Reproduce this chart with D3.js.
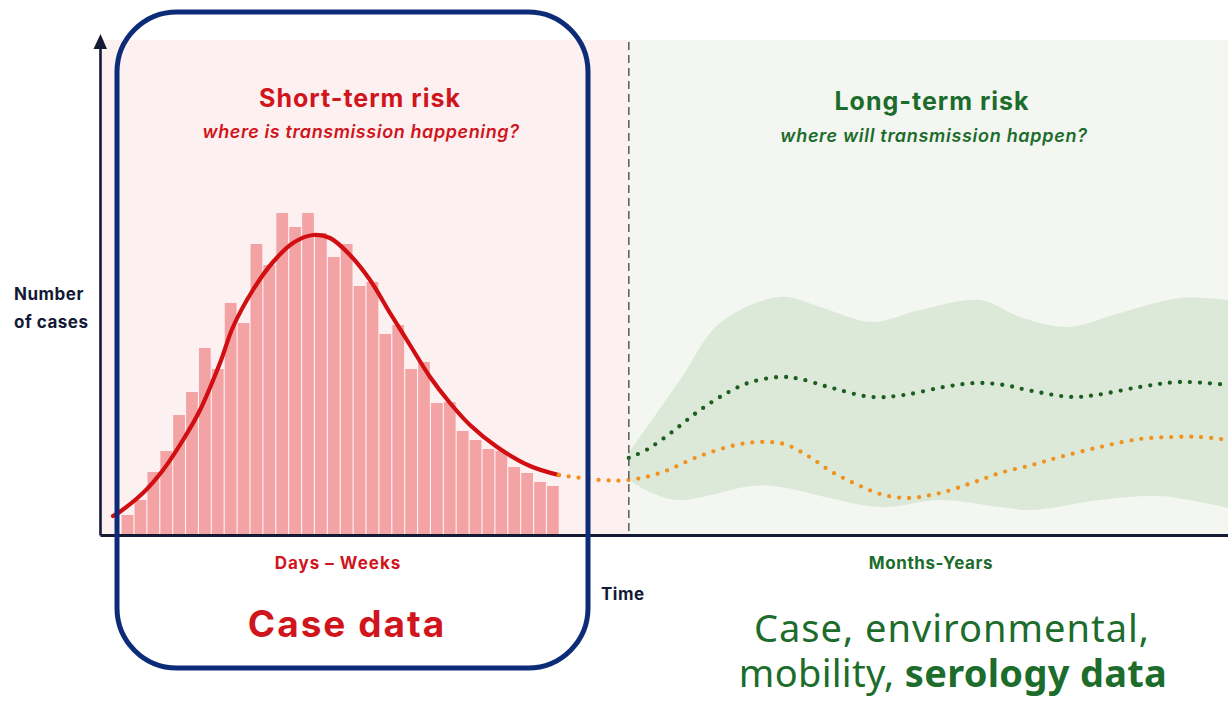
<!DOCTYPE html>
<html>
<head>
<meta charset="utf-8">
<script src="https://cdn.jsdelivr.net/npm/d3@7"></script>
<style>
  html, body { margin: 0; padding: 0; background: #fff; }
  svg { display: block; }
  text { font-family: Inter, "Noto Sans", sans-serif; }
</style>
</head>
<body>
<script>
// Histogram of cases (relative units, one value per bin)
const barValues = [4, 7, 12.6, 16.8, 24, 28.6, 37.4, 33.2, 46.4, 42.4, 58.2, 54, 64.4, 61.6, 64.4, 60.4, 55.6,
    58.2, 49.8, 50.6, 40.2, 42, 33.2, 34.6, 26.4, 26.6, 20.8, 19, 17.2, 16.8, 13.6, 12.4, 10.6, 9.8];
const barRange = [1.92, 40.67];          // first and last bin edge on the time axis

// Fitted epidemic curve [time, cases]
const curvePoints = [[1.15, 3.8], [1.77, 4.66], [3.81, 8.4], [5.59, 13], [7.36, 19], [8.87, 25], [10.64, 34.4],
    [11.79, 41.6], [13.56, 49], [15.34, 54.6], [17.11, 58.4], [18.88, 60], [20.39, 59.4], [22.16, 56], [23.94, 51],
    [25.71, 44.4], [27.48, 38], [29.26, 31.6], [31.03, 26.4], [32.8, 22], [35.2, 17.6], [38.12, 13.8], [40.67, 12]];

// Long-term projection (orange) starting from the end of the curve
const orangePoints = [[40.67, 12], [44.33, 11], [46.88, 11], [49.65, 12.4], [53.19, 15.8], [56.38, 18], [58.51, 18.6],
    [60.64, 18.2], [62.77, 15.8], [64.89, 12.6], [67.02, 10.2], [69.15, 8.2], [71.63, 7.4], [74.47, 8.4], [77.3, 10.4],
    [79.79, 12.4], [82.62, 14], [85.11, 15.6], [88.65, 17.6], [92.2, 19.2], [95.04, 19.6], [97.52, 19.6], [100, 19]];

// Long-term projection (green)
const greenPoints = [[46.88, 15.4], [48.58, 17.2], [50.71, 20.6], [52.84, 24.4], [54.96, 27.6], [57.45, 30.4],
    [60.28, 31.6], [62.06, 31.2], [64.89, 29.4], [68.44, 27.6], [71.28, 28], [74.82, 29.6], [77.66, 30.4],
    [80.14, 30], [82.62, 28.8], [86.17, 27.6], [88.3, 28], [92.2, 29.6], [95.74, 30.6], [100, 30]];

// Uncertainty band
const bandUpper = [[46.88, 16.4], [51.42, 31], [54.96, 42.4], [60.28, 47.6], [63.83, 45.6], [68.44, 42.6],
    [72.7, 45], [78.01, 47], [81.56, 43.6], [85.82, 41.6], [90.43, 44.4], [95.74, 47.4], [100, 47]];
const bandLower = [[46.88, 11], [48.94, 8.4], [51.42, 7], [57.8, 9.8], [60.28, 9.6], [69.15, 5.6], [74.47, 7],
    [79.79, 5.6], [82.62, 5], [88.65, 7], [93.97, 7.8], [100, 5.4]];

const splitTime = 46.88;                 // boundary short-term / long-term

// Dimensions
const [w, h] = [1228, 703];
const plot = { left: 100, right: 1228, top: 35, bottom: 535 };

const svg = d3.select('body')
    .append('svg')
    .attr('width', w)
    .attr('height', h);

// Scales
const xScale = d3.scaleLinear()
    .domain([0, 100])
    .range([plot.left, plot.right]);

const yScale = d3.scaleLinear()
    .domain([0, 100])
    .range([plot.bottom, plot.top]);

const bandX = d3.scaleBand()
    .domain(d3.range(barValues.length))
    .range([xScale(barRange[0]), xScale(barRange[1])])
    .paddingInner(0.09);

// Backgrounds
const bgTop = 40;
svg.append('rect')
    .attr('x', xScale(0))
    .attr('y', bgTop)
    .attr('width', xScale(splitTime) - xScale(0))
    .attr('height', plot.bottom - bgTop)
    .attr('fill', '#fdf0f0');

svg.append('rect')
    .attr('x', xScale(splitTime))
    .attr('y', bgTop)
    .attr('width', xScale(100) - xScale(splitTime))
    .attr('height', plot.bottom - bgTop)
    .attr('fill', '#f3f6f1');

// Bars
svg.selectAll('.bar')
    .data(barValues)
    .enter()
    .append('rect')
    .attr('class', 'bar')
    .attr('x', (d, i) => bandX(i))
    .attr('y', d => yScale(d))
    .attr('width', bandX.bandwidth())
    .attr('height', d => yScale(0) - yScale(d))
    .attr('fill', '#f4a3a5');

// Curve
const line = d3.line()
    .x(d => xScale(d[0]))
    .y(d => yScale(d[1]))
    .curve(d3.curveCatmullRom);

svg.append('path')
    .attr('d', line(curvePoints))
    .attr('fill', 'none')
    .attr('stroke', '#d10f12')
    .attr('stroke-width', 4.2)
    .attr('stroke-linecap', 'round');

// Band (upper edge, then lower edge backwards)
const bandPath = line(bandUpper) + line(bandLower.slice().reverse()).replace(/^M/, 'L') + 'Z';
svg.append('path')
    .attr('d', bandPath)
    .attr('fill', '#dce9d8');

// Dotted projections
svg.append('path')
    .attr('d', line(greenPoints))
    .attr('fill', 'none')
    .attr('stroke', '#1b5e20')
    .attr('stroke-width', 4.3)
    .attr('stroke-linecap', 'round')
    .attr('stroke-dasharray', '0 10');

svg.append('path')
    .attr('d', line(orangePoints))
    .attr('fill', 'none')
    .attr('stroke', '#f0921c')
    .attr('stroke-width', 4.3)
    .attr('stroke-linecap', 'round')
    .attr('stroke-dasharray', '0 10');

// Dashed separator
svg.append('line')
    .attr('x1', xScale(splitTime))
    .attr('x2', xScale(splitTime))
    .attr('y1', bgTop + 2)
    .attr('y2', plot.bottom)
    .attr('stroke', '#5a5a5a')
    .attr('stroke-width', 1.5)
    .attr('stroke-dasharray', '8 5');

// Axes (no ticks, just the lines)
const axisColor = '#121a36';

svg.append('g')
    .attr('transform', 'translate(0,' + plot.bottom + ')')
    .call(d3.axisBottom(xScale).tickValues([]).tickSizeOuter(0))
    .select('.domain')
    .attr('stroke', axisColor)
    .attr('stroke-width', 3);

svg.append('g')
    .attr('transform', 'translate(' + plot.left + ',0)')
    .call(d3.axisLeft(d3.scaleLinear().range([plot.bottom, 46])).tickValues([]).tickSizeOuter(0))
    .select('.domain')
    .attr('stroke', axisColor)
    .attr('stroke-width', 2.6);

// Arrow head
svg.append('path')
    .attr('d', d3.line()([[plot.left - 6.5, 49], [plot.left + 0.5, plot.top - 1], [plot.left + 7, 49]]) + 'Z')
    .attr('fill', axisColor);

// Highlight box around the case data
svg.append('rect')
    .attr('x', 117)
    .attr('y', 12)
    .attr('width', 471)
    .attr('height', 656)
    .attr('rx', 60)
    .attr('fill', 'none')
    .attr('stroke', '#0c2c78')
    .attr('stroke-width', 5);

// Texts
const red = '#d0151c';
const green = '#1c6c2b';

const labels = [
    { text: 'Short-term risk', x: 360, y: 107, size: 25, weight: 700, color: red, ls: 1 },
    { text: 'where is transmission happening?', x: 361, y: 138, size: 18, weight: 600, color: red, italic: true, ls: 0.6 },
    { text: 'Long-term risk', x: 932, y: 110, size: 25, weight: 700, color: green, ls: 1 },
    { text: 'where will transmission happen?', x: 934, y: 142, size: 18, weight: 600, color: green, italic: true, ls: 0.7 },
    { text: 'Days – Weeks', x: 338, y: 569, size: 17, weight: 700, color: red, ls: 1 },
    { text: 'Months-Years', x: 931, y: 569, size: 17, weight: 700, color: green, ls: 0.6 },
    { text: 'Case data', x: 347, y: 637, size: 37, weight: 700, color: red, ls: 2 }
];

labels.forEach(s => {
    svg.append('text')
        .attr('x', s.x)
        .attr('y', s.y)
        .attr('text-anchor', 'middle')
        .attr('font-size', s.size)
        .attr('font-weight', s.weight)
        .attr('font-style', s.italic ? 'italic' : 'normal')
        .attr('letter-spacing', s.ls)
        .attr('fill', s.color)
        .text(s.text);
});

// Axis labels
const yLabel = svg.append('text')
    .attr('x', 14)
    .attr('font-size', 17)
    .attr('font-weight', 700)
    .attr('letter-spacing', 0.5)
    .attr('fill', axisColor);
yLabel.append('tspan').attr('x', 14).attr('y', 300).text('Number');
yLabel.append('tspan').attr('x', 14).attr('y', 328).text('of cases');

svg.append('text')
    .attr('x', 601)
    .attr('y', 600)
    .attr('font-size', 17)
    .attr('font-weight', 700)
    .attr('letter-spacing', 0.5)
    .attr('fill', axisColor)
    .text('Time');

// Data sources for long term (one text, two lines)
const src = svg.append('text')
    .attr('fill', green)
    .attr('font-size', 38)
    .attr('text-anchor', 'middle')
    .style('font-family', '"Noto Sans", sans-serif');

src.append('tspan')
    .attr('x', 952)
    .attr('y', 642)
    .attr('letter-spacing', 1)
    .text('Case, environmental,');

src.append('tspan')
    .attr('x', 953)
    .attr('y', 687)
    .attr('letter-spacing', 0.3)
    .text('mobility, ');
src.append('tspan')
    .attr('font-weight', 700)
    .attr('letter-spacing', 0.3)
    .text('serology data');
</script>
</body>
</html>
